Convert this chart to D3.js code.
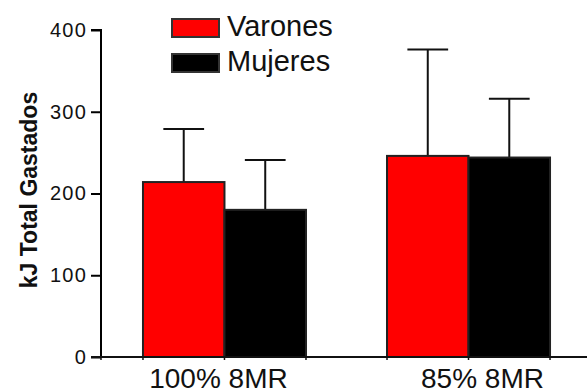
<!DOCTYPE html>
<html>
<head>
<meta charset="utf-8">
<script src="https://cdn.jsdelivr.net/npm/d3@7"></script>
<style>
  body { margin: 0; background: #fff; }
  text { font-family: 'Liberation Sans', Arial, sans-serif; }
</style>
</head>
<body>
<div id="chart"></div>
<script>
// kJ gastados por grupo
const groups = ['100% 8MR', '85% 8MR']
const series = ['Varones', 'Mujeres']
const varones = [214, 246]
const varonesSD = [65, 130]
const mujeres = [180, 244]
const mujeresSD = [61, 72]
const yTicks = [0, 100, 200, 300, 400]
const colors = ['#ff0000', '#000000']

const width = 587
const height = 392
const margin = { top: 30, left: 101, bottom: 35 }
// labels in the original sit a little off the group centres
const labelNudge = [-6, 14]

const svg = d3
  .select('#chart')
  .append('svg')
  .attr('width', width)
  .attr('height', height)

const yPositionScale = d3
  .scaleLinear()
  .domain([0, 400])
  .range([height - margin.bottom, margin.top])

const xPositionScale = d3
  .scaleBand()
  .domain(groups)
  .range([margin.left, 592])
  .paddingInner(0.332)
  .paddingOuter(0.172)

const seriesScale = d3
  .scaleBand()
  .domain(series)
  .range([0, xPositionScale.bandwidth()])

const datapoints = []
groups.forEach((g, i) => {
  datapoints.push({ group: g, sex: 'Varones', value: varones[i], sd: varonesSD[i] })
  datapoints.push({ group: g, sex: 'Mujeres', value: mujeres[i], sd: mujeresSD[i] })
})

const y0 = yPositionScale(0)

// error bars (behind bars)
svg
  .selectAll('.err')
  .data(datapoints)
  .enter()
  .append('line')
  .attr('class', 'err')
  .attr('x1', d => xPositionScale(d.group) + seriesScale(d.sex) + seriesScale.bandwidth() / 2)
  .attr('x2', d => xPositionScale(d.group) + seriesScale(d.sex) + seriesScale.bandwidth() / 2)
  .attr('y1', d => yPositionScale(d.value))
  .attr('y2', d => yPositionScale(d.value + d.sd))
  .attr('stroke', '#111')
  .attr('stroke-width', 2)

svg
  .selectAll('.cap')
  .data(datapoints)
  .enter()
  .append('line')
  .attr('class', 'cap')
  .attr('x1', d => xPositionScale(d.group) + seriesScale(d.sex) + seriesScale.bandwidth() / 4)
  .attr('x2', d => xPositionScale(d.group) + seriesScale(d.sex) + seriesScale.bandwidth() * 3 / 4)
  .attr('y1', d => yPositionScale(d.value + d.sd))
  .attr('y2', d => yPositionScale(d.value + d.sd))
  .attr('stroke', '#111')
  .attr('stroke-width', 2)

// bars
svg
  .selectAll('.bar')
  .data(datapoints)
  .enter()
  .append('rect')
  .attr('class', 'bar')
  .attr('x', d => xPositionScale(d.group) + seriesScale(d.sex))
  .attr('y', d => yPositionScale(d.value))
  .attr('width', seriesScale.bandwidth())
  .attr('height', d => y0 - yPositionScale(d.value))
  .attr('fill', d => colors[series.indexOf(d.sex)])
  .attr('stroke', '#222')
  .attr('stroke-width', 2)

// y axis
const yAxis = d3.axisLeft(yPositionScale)
  .tickValues(yTicks)
  .tickSize(10)
  .tickPadding(4)
svg
  .append('g')
  .attr('class', 'axis y-axis')
  .attr('transform', 'translate(' + margin.left + ',0)')
  .call(yAxis)
  .call(g => g.select('.domain').attr('stroke-width', 2).attr('d', 'M-10,' + yPositionScale(400) + 'H0V' + y0))
  .call(g => g.selectAll('.tick line').attr('stroke-width', 2))
  .call(g => g.selectAll('.tick text')
    .attr('font-size', 20)
    .attr('letter-spacing', 1.2)
    .attr('font-family', "'Liberation Sans', Arial, sans-serif")
    .attr('fill', '#111'))

// x axis line with ticks at bar edges
svg
  .append('line')
  .attr('x1', margin.left - 10)
  .attr('x2', width)
  .attr('y1', y0)
  .attr('y2', y0)
  .attr('stroke', '#111')
  .attr('stroke-width', 2)

const edges = [margin.left]
groups.forEach(g => {
  series.forEach(s => edges.push(xPositionScale(g) + seriesScale(s)))
  edges.push(xPositionScale(g) + xPositionScale.bandwidth())
})
svg
  .selectAll('.xtick')
  .data(edges)
  .enter()
  .append('line')
  .attr('class', 'xtick')
  .attr('x1', d => d)
  .attr('x2', d => d)
  .attr('y1', y0)
  .attr('y2', y0 + 3)
  .attr('stroke', '#111')
  .attr('stroke-width', 1.5)

svg
  .selectAll('.xlabel')
  .data(groups)
  .enter()
  .append('text')
  .attr('class', 'xlabel')
  .attr('x', (d, i) => xPositionScale(d) + xPositionScale.bandwidth() / 2 + labelNudge[i])
  .attr('y', 388)
  .attr('text-anchor', 'middle')
  .attr('font-size', 28)
  .attr('fill', '#111')
  .text(d => d)

// y title
svg
  .append('text')
  .attr('transform', 'translate(37,' + 190 + ') rotate(-90)')
  .attr('text-anchor', 'middle')
  .attr('font-size', 23)
  .attr('font-weight', 'bold')
  .attr('fill', '#111')
  .text('kJ Total Gastados')

// legend
const legend = svg
  .selectAll('.legend')
  .data(series)
  .enter()
  .append('g')
  .attr('class', 'legend')
  .attr('transform', (d, i) => 'translate(172,' + (19 + i * 35) + ')')

legend
  .append('rect')
  .attr('width', 47)
  .attr('height', 18)
  .attr('fill', (d, i) => colors[i])
  .attr('stroke', '#333')
  .attr('stroke-width', 2)

legend
  .append('text')
  .attr('x', 55)
  .attr('y', 17)
  .attr('font-size', 29)
  .attr('fill', '#111')
  .text(d => d)
</script>
</body>
</html>
